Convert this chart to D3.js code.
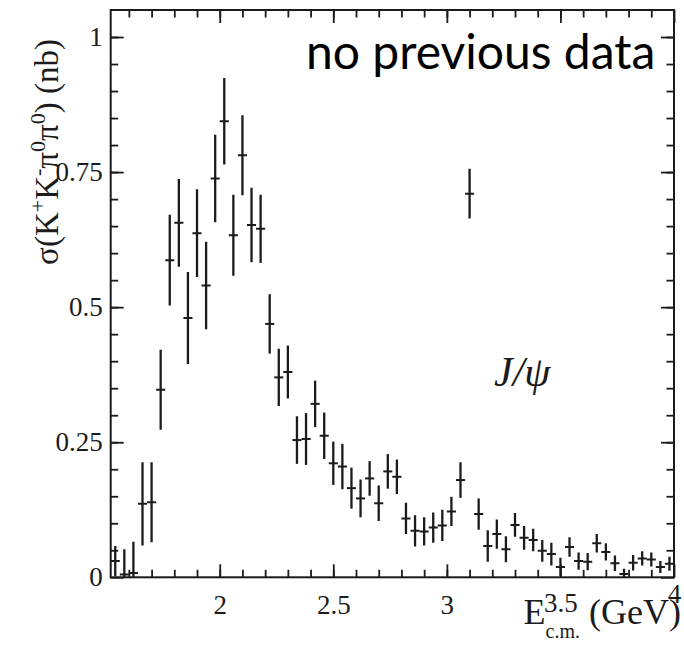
<!DOCTYPE html>
<html><head><meta charset="utf-8">
<script src="https://cdn.jsdelivr.net/npm/d3@7/dist/d3.min.js"></script>
<style>body{margin:0;background:#fff}</style>
</head><body>
<svg id="c" width="684" height="653"></svg>
<script>
// ---- data ----
const energies = [1.54,1.58,1.62,1.66,1.70,1.74,1.78,1.82,1.86,1.90,1.94,1.98,2.02,2.06,2.10,2.14,2.18,2.22,2.26,2.30,
  2.34,2.38,2.42,2.46,2.50,2.54,2.58,2.62,2.66,2.70,2.74,2.78,2.82,2.86,2.90,2.94,2.98,3.02,3.06,3.10,
  3.14,3.18,3.22,3.26,3.30,3.34,3.38,3.42,3.46,3.50,3.54,3.58,3.62,3.66,3.70,3.74,3.78,3.82,3.86,3.90,3.94,3.98];
const sigma = [0.030,0.005,0.008,0.136,0.139,0.347,0.587,0.656,0.480,0.637,0.540,0.738,0.844,0.633,0.781,0.652,0.645,0.469,0.370,0.380,
  0.254,0.256,0.321,0.262,0.211,0.205,0.165,0.146,0.183,0.137,0.196,0.186,0.109,0.086,0.085,0.092,0.096,0.122,0.180,0.710,
  0.117,0.058,0.080,0.052,0.097,0.073,0.069,0.049,0.043,0.019,0.056,0.030,0.029,0.063,0.047,0.026,0.006,0.027,0.035,0.033,0.019,0.025];
const sigmaErr = [0.028,0.047,0.058,0.077,0.074,0.074,0.084,0.081,0.085,0.081,0.081,0.081,0.080,0.075,0.074,0.069,0.063,0.055,0.053,0.049,
  0.044,0.048,0.043,0.043,0.040,0.042,0.038,0.035,0.032,0.033,0.032,0.032,0.029,0.029,0.026,0.028,0.029,0.027,0.033,0.046,
  0.029,0.029,0.027,0.024,0.022,0.022,0.021,0.020,0.021,0.017,0.018,0.016,0.016,0.017,0.016,0.0145,0.010,0.0145,0.013,0.013,0.011,0.013];
const binHalfWidth = 0.02;
const xTickValues = [2, 2.5, 3, 3.5, 4];
const xTickLabels = ["2", "2.5", "3", "3.5", "4"];
const yTickValues = [0, 0.25, 0.5, 0.75, 1];
const yTickLabels = ["0", "0.25", "0.5", "0.75", "1"];

// ---- drawing ----
const svg = d3.select("#c");
const ink = "#1b1b1b";
const serif = "'Liberation Serif','Times New Roman',serif";
const x = d3.scaleLinear().domain([1.52, 4.0]).range([110.7, 674]);
const y = d3.scaleLinear().domain([0, 1.05]).range([577.3, 10]);
const xMinor = d3.range(16, 40).map(d => d / 10);
const yMinor = d3.range(1, 21).map(d => d / 20);

function styleAxis(g) {
  g.select(".domain").remove();
  g.selectAll("line").attr("stroke", ink).attr("stroke-width", 1.8);
  g.selectAll("text").attr("fill", ink).style("font-family", serif).style("font-size", "27px");
}
const [x0, x1] = x.range();
const [yb, yt] = y.range();

// minor ticks (all four sides, inward)
svg.append("g").attr("transform", `translate(0,${yb})`).call(d3.axisBottom(x).tickValues(xMinor).tickSize(-7.5).tickFormat("")).call(styleAxis);
svg.append("g").attr("transform", `translate(0,${yt})`).call(d3.axisTop(x).tickValues(xMinor).tickSize(-7.5).tickFormat("")).call(styleAxis);
svg.append("g").attr("transform", `translate(${x0},0)`).call(d3.axisLeft(y).tickValues(yMinor).tickSize(-7.5).tickFormat("")).call(styleAxis);
svg.append("g").attr("transform", `translate(${x1},0)`).call(d3.axisRight(y).tickValues(yMinor).tickSize(-7.5).tickFormat("")).call(styleAxis);

// major ticks
const gxb = svg.append("g").attr("transform", `translate(0,${yb})`)
  .call(d3.axisBottom(x).tickValues(xTickValues).tickSize(-13).tickPadding(18).tickFormat((d, i) => xTickLabels[i])).call(styleAxis);
gxb.selectAll(".tick text").attr("dy", (d) => d === 4 ? "0.3em" : (d === 3.5 ? "0.62em" : "0.71em"));
svg.append("g").attr("transform", `translate(0,${yt})`).call(d3.axisTop(x).tickValues(xTickValues).tickSize(-13).tickFormat("")).call(styleAxis);
svg.append("g").attr("transform", `translate(${x0},0)`)
  .call(d3.axisLeft(y).tickValues(yTickValues).tickSize(-13).tickPadding(8).tickFormat((d, i) => yTickLabels[i])).call(styleAxis);
svg.append("g").attr("transform", `translate(${x1},0)`).call(d3.axisRight(y).tickValues(yTickValues).tickSize(-13).tickFormat("")).call(styleAxis);

// frame
svg.append("rect").attr("x", x0).attr("y", yt).attr("width", x1 - x0).attr("height", yb - yt)
  .attr("fill", "none").attr("stroke", ink).attr("stroke-width", 2);

// clip
svg.append("clipPath").attr("id", "plotclip").append("rect")
  .attr("x", x0).attr("y", yt).attr("width", x1 - x0).attr("height", yb - yt);

const pts = energies.map((e, i) => ({ e, v: sigma[i], err: sigmaErr[i] }));
const gp = svg.append("g").attr("clip-path", "url(#plotclip)");
gp.selectAll("line.v").data(pts).join("line").attr("class", "v")
  .attr("x1", d => x(d.e)).attr("x2", d => x(d.e))
  .attr("y1", d => y(d.v - d.err)).attr("y2", d => y(d.v + d.err))
  .attr("stroke", ink).attr("stroke-width", 2.3);
gp.selectAll("line.h").data(pts).join("line").attr("class", "h")
  .attr("x1", d => x(d.e - binHalfWidth)).attr("x2", d => x(d.e + binHalfWidth))
  .attr("y1", d => y(d.v)).attr("y2", d => y(d.v))
  .attr("stroke", ink).attr("stroke-width", 2);

// y-axis title
const yt_ = svg.append("text").attr("transform", "translate(58,152) rotate(-90)")
  .attr("text-anchor", "middle").attr("fill", ink)
  .style("font-family", serif).style("font-size", "33px");
const parts = [["σ(K", 0], ["+", 1], ["K", 0], ["-", 1], ["π", 0], ["0", 1], ["π", 0], ["0", 1], [") (nb)", 0]];
let prevSup = 0;
parts.forEach(([t, sup]) => {
  const ts = yt_.append("tspan").text(t);
  if (sup) ts.style("font-size", "22px");
  const shift = (sup ? -13 : 0) - (prevSup ? -13 : 0);
  if (shift) ts.attr("dy", shift);
  prevSup = sup;
});

// x-axis title
const xt = svg.append("text").attr("x", 681).attr("y", 624).attr("text-anchor", "end")
  .attr("fill", ink).style("font-family", serif).style("font-size", "36px");
xt.append("tspan").text("E");
xt.append("tspan").text("c.m.").style("font-size", "20px").attr("dy", 14);
xt.append("tspan").text(" (GeV)").attr("dy", -14);

// annotations
svg.append("text").attr("x", 306).attr("y", 69).attr("fill", "#000")
  .style("font-family", "Lato, 'Open Sans', sans-serif").style("font-size", "48px").text("no previous data");
svg.append("text").attr("x", 494).attr("y", 386).attr("fill", ink)
  .style("font-family", serif).style("font-style", "italic").style("font-size", "42px").text("J/ψ");
</script>
</body></html>
